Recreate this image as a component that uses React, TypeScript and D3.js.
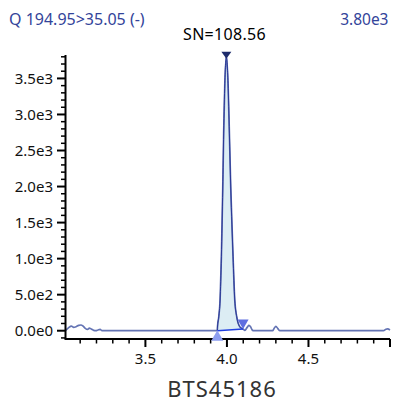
import React from "react";
import * as d3 from "d3";

// ---- data ----
const times: number[] = [
  3.009, 3.0296, 3.0456, 3.06, 3.0744, 3.091, 3.105, 3.117, 3.131, 3.146, 3.156, 3.168,
  3.183, 3.197, 3.209, 3.222, 3.234, 3.248, 3.5, 3.75, 3.935, 3.941, 3.942, 3.95, 3.958,
  3.966, 3.9744, 3.98, 3.987, 3.9966, 4.0069, 4.015, 4.0235, 4.0376, 4.048, 4.06, 4.0787,
  4.093, 4.099, 4.11, 4.125, 4.135, 4.145, 4.155, 4.165, 4.28, 4.29, 4.3, 4.312, 4.325,
  4.5, 4.75, 4.96, 4.975, 4.985, 5.0,
];
const intensities: number[] = [
  0, 42, 65, 47, 55, 75, 79, 65, 33, 19, 37, 24,
  5, 0, 10, 19, 0, 0, 0, 0, 0, 0, 50, 194, 426,
  1026, 1980, 2742, 3431, 3800, 3431, 2742, 1980, 1026, 426, 194, 55,
  30, 24, 5, 50, 75, 55, 10, 0, 0, 35, 60, 30, 0,
  0, 0, 0, 20, 25, 10,
];
const peakStart = 3.941;
const peakEnd = 4.099;
const peakApex = 3.9966;
const yMajorTicks: number[] = [0, 500, 1000, 1500, 2000, 2500, 3000, 3500];
const xLabelTicks: number[] = [3.5, 4.0, 4.5];
const xMajorTicks: number[] = [3.5, 4.0, 4.5, 5.0];
const titleLeft = "Q 194.95>35.05 (-)";
const titleRight = "3.80e3";
const snLabel = "SN=108.56";
const sampleName = "BTS45186";

const W = 393;
const H = 402;
const FONT = "'Noto Sans', 'Open Sans', sans-serif";

export default function App() {
  const x = d3.scaleLinear().domain([3.01, 5.0]).range([65.5, 390]);
  const y = d3.scaleLinear().domain([-115, 3825]).range([339, 55]);

  const pts = times.map((t, i) => [t, intensities[i]] as [number, number]);
  const line = d3
    .line<[number, number]>()
    .x((d) => x(d[0]))
    .y((d) => y(d[1]))
    .curve(d3.curveMonotoneX);

  const peakPts = pts.filter((d) => d[0] >= peakStart - 1e-9 && d[0] <= peakEnd + 1e-9);
  const vL = peakPts[0][1];
  const vR = peakPts[peakPts.length - 1][1];
  const base = (t: number) => vL + ((vR - vL) * (t - peakStart)) / (peakEnd - peakStart);
  const area = d3
    .area<[number, number]>()
    .x((d) => x(d[0]))
    .y0((d) => y(base(d[0])))
    .y1((d) => y(d[1]))
    .curve(d3.curveMonotoneX);

  const yMinor = d3.range(-100, 3801, 100).filter((v) => v % 500 !== 0);
  const xMinor = d3.range(3.1, 5.001, 0.1).filter(
    (v) => !xMajorTicks.some((m) => Math.abs(m - v) < 1e-6)
  );
  const fmtY = (v: number) => v.toExponential(1).replace("e+", "e");

  const apexV = intensities[times.indexOf(peakApex)];
  const ax = x(peakApex);
  const ay = y(apexV);
  const lx = x(peakStart);
  const ly = y(vL);
  const rx = x(peakEnd);
  const ry = y(vR);

  return (
    <svg
      width={W}
      height={H}
      style={{ position: "absolute", left: 0, top: 0, background: "#fff" }}
      fontFamily={FONT}
    >
      <text x={9} y={25} fontSize={16} fill="#33449a">
        {titleLeft}
      </text>
      <text x={388.5} y={25} fontSize={15.5} fill="#33449a" textAnchor="end">
        {titleRight}
      </text>
      <text x={224.5} y={39.5} fontSize={16} fill="#000" textAnchor="middle" letterSpacing={0.3}>
        {snLabel}
      </text>

      {/* peak fill */}
      <path d={area(peakPts) || ""} fill="#dcedf4" stroke="none" />
      {/* trace */}
      <path d={line(pts) || ""} fill="none" stroke="#6474b4" strokeWidth={1.7} />
      <path d={line(peakPts) || ""} fill="none" stroke="#2a3896" strokeWidth={1} />
      {/* integration baseline */}
      <line x1={lx} y1={ly} x2={rx} y2={ry} stroke="#1f3ee0" strokeWidth={1.5} />

      {/* axes */}
      <line x1={x.range()[0]} y1={y(3825)} x2={x.range()[0]} y2={339} stroke="#000" strokeWidth={2} />
      <line x1={x.range()[0] - 1} y1={339} x2={x.range()[1]} y2={339} stroke="#000" strokeWidth={2} />
      {yMajorTicks.map((v) => (
        <g key={"ym" + v}>
          <line x1={57} x2={65.5} y1={y(v)} y2={y(v)} stroke="#000" strokeWidth={2} />
          <text x={53} y={y(v)} dy="0.35em" fontSize={15} textAnchor="end" fill="#111">
            {fmtY(v)}
          </text>
        </g>
      ))}
      {yMinor.map((v) => (
        <line key={"yn" + v} x1={61} x2={65.5} y1={y(v)} y2={y(v)} stroke="#000" strokeWidth={1.5} />
      ))}
      {xMajorTicks.map((v) => (
        <line key={"xm" + v} x1={x(v)} x2={x(v)} y1={339} y2={347} stroke="#000" strokeWidth={2} />
      ))}
      {xMinor.map((v) => (
        <line key={"xn" + v.toFixed(2)} x1={x(v)} x2={x(v)} y1={339} y2={343.5} stroke="#000" strokeWidth={1.5} />
      ))}
      {xLabelTicks.map((v) => (
        <text key={"xl" + v} x={x(v)} y={364} fontSize={15} textAnchor="middle" fill="#111">
          {v.toFixed(1)}
        </text>
      ))}

      {/* markers */}
      <path d={`M${ax - 5},${ay - 5} L${ax + 5},${ay - 5} L${ax},${ay + 2} Z`} fill="#1e2c6c" />
      <path d={`M${lx},${ly - 0.5} L${lx + 6},${ly + 10} L${lx - 6},${ly + 10} Z`} fill="#8d9ef0" />
      <path d={`M${rx - 5.5},${ry - 9.5} L${rx + 5.5},${ry - 9.5} L${rx},${ry} Z`} fill="#5f6fe0" />

      <text x={222} y={397} fontSize={22} textAnchor="middle" fill="#333" letterSpacing={1}>
        {sampleName}
      </text>
    </svg>
  );
}
